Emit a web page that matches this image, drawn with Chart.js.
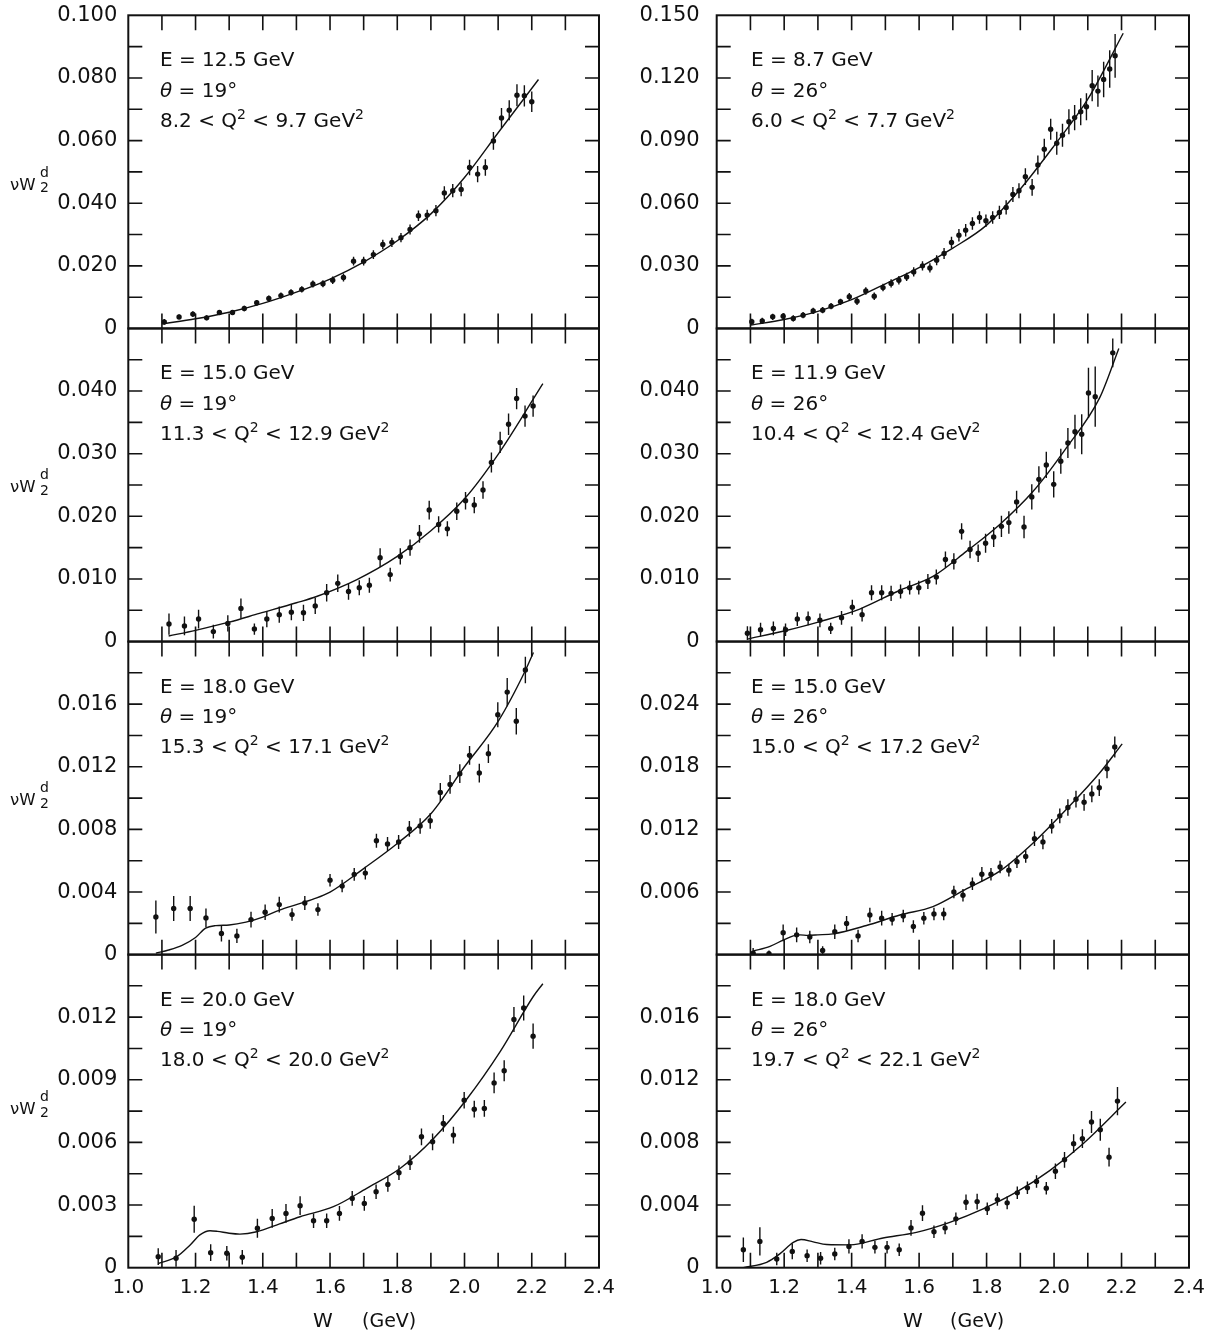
<!DOCTYPE html>
<html><head><meta charset="utf-8">
<script src="https://cdn.jsdelivr.net/npm/chart.js@4.4.1/dist/chart.umd.min.js"></script>
<style>
html,body{margin:0;padding:0;background:#fff;}
#wrap{position:relative;width:1210px;height:1334px;overflow:hidden;background:#fff;}
canvas{position:absolute;}
.t{position:absolute;line-height:0;white-space:nowrap;font-family:"DejaVu Sans",sans-serif;color:#111;}
.sup{position:relative;font-size:14px;top:-8px;}
</style></head><body><div id="wrap"></div>
<script>
// ---------------- DATA ----------------
// x tick values (W in GeV)
const X_TICK_VALUES = [1.1,1.2,1.3,1.4,1.5,1.6,1.7,1.8,1.9,2.0,2.1,2.2,2.3];

// Panel annotations: order L1..L4 (theta=19), R1..R4 (theta=26)
const PANEL_E = ['12.5','15.0','18.0','20.0','8.7','11.9','15.0','18.0'];
const PANEL_THETA = ['19','19','19','19','26','26','26','26'];
const PANEL_Q2_LOW = ['8.2','11.3','15.3','18.0','6.0','10.4','15.0','19.7'];
const PANEL_Q2_HIGH = ['9.7','12.9','17.1','20.0','7.7','12.4','17.2','22.1'];
const Y_MAX = [0.100,0.050,0.020,0.015,0.150,0.050,0.030,0.020];
const Y_MAJOR = [0.020,0.010,0.004,0.003,0.030,0.010,0.006,0.004];
const Y_MINOR = [0.010,0.005,0.002,0.0015,0.015,0.005,0.003,0.002];
const HIDE_ZERO = [false,false,false,false,false,false,true,false];

// L1: E=12.5 GeV, theta=19
const L1_W = [1.107,1.151,1.192,1.233,1.271,1.31,1.345,1.382,1.418,1.454,1.484,1.516,1.549,1.579,1.608,1.64,1.67,1.70,1.729,1.757,1.784,1.811,1.838,1.863,1.889,1.915,1.94,1.965,1.99,2.015,2.039,2.062,2.086,2.11,2.133,2.156,2.178,2.2];
const L1_Y = [0.0021,0.0037,0.0046,0.0034,0.0051,0.0051,0.0064,0.0082,0.0096,0.0105,0.0115,0.0125,0.0142,0.0143,0.0154,0.0163,0.0215,0.0215,0.0236,0.0268,0.0275,0.029,0.0316,0.036,0.0362,0.0376,0.0433,0.044,0.0444,0.0514,0.0493,0.0514,0.0599,0.0672,0.0697,0.0745,0.0743,0.0724];
const L1_ERR = [0.0009,0.0008,0.0009,0.0008,0.0008,0.0008,0.0009,0.0009,0.0009,0.001,0.001,0.001,0.0011,0.0011,0.0012,0.0013,0.0014,0.0014,0.0014,0.0015,0.0015,0.0015,0.0016,0.0017,0.0017,0.0018,0.0021,0.0021,0.0022,0.0025,0.0026,0.0026,0.0028,0.0032,0.0032,0.0035,0.0034,0.0033];
const L1_FIT_W = [1.1,1.2,1.3,1.4,1.5,1.6,1.7,1.8,1.9,2.0,2.1,2.22];
const L1_FIT_Y = [0.0015,0.0031,0.0052,0.0080,0.0116,0.0158,0.0212,0.0280,0.0366,0.0482,0.0625,0.0795];

// L2: E=15.0 GeV, theta=19
const L2_W = [1.121,1.167,1.209,1.253,1.296,1.335,1.375,1.412,1.449,1.485,1.521,1.556,1.59,1.623,1.655,1.687,1.717,1.749,1.779,1.809,1.838,1.866,1.895,1.923,1.949,1.977,2.003,2.029,2.055,2.08,2.106,2.131,2.155,2.18,2.204];
const L2_Y = [0.0028,0.0025,0.0036,0.0016,0.0029,0.0053,0.0020,0.0036,0.0043,0.0047,0.0046,0.0057,0.0078,0.0093,0.0080,0.0086,0.0090,0.0134,0.0107,0.0136,0.0150,0.0172,0.0210,0.0187,0.0180,0.0208,0.0225,0.0218,0.0242,0.0286,0.0318,0.0347,0.0388,0.0360,0.0376];
const L2_ERR = [0.0017,0.0015,0.0015,0.0011,0.0013,0.0016,0.0009,0.0013,0.0013,0.0013,0.0013,0.0013,0.0014,0.0014,0.0013,0.0012,0.0012,0.0015,0.0011,0.0013,0.0013,0.0014,0.0015,0.0013,0.0012,0.0014,0.0014,0.0013,0.0014,0.0016,0.0017,0.0017,0.0017,0.0017,0.0017];
const L2_FIT_W = [1.12,1.2,1.3,1.39,1.5,1.56,1.68,1.8,1.9,2.0,2.1,2.233];
const L2_FIT_Y = [0.0009,0.0018,0.0031,0.0045,0.0062,0.0072,0.0099,0.0136,0.0177,0.0228,0.0299,0.0412];

// L3: E=18.0 GeV, theta=19
const L3_W = [1.082,1.135,1.184,1.231,1.277,1.323,1.365,1.407,1.449,1.487,1.525,1.564,1.6,1.636,1.672,1.705,1.738,1.771,1.804,1.836,1.868,1.898,1.928,1.957,1.986,2.015,2.044,2.071,2.099,2.127,2.154,2.181];
const L3_Y = [0.00241,0.00295,0.00295,0.00235,0.00135,0.0012,0.00224,0.00271,0.0032,0.00256,0.0033,0.00288,0.00476,0.00438,0.00513,0.00521,0.00728,0.00707,0.0072,0.00803,0.00822,0.00855,0.01036,0.01087,0.01156,0.01273,0.0116,0.01284,0.01532,0.01677,0.01491,0.01818];
const L3_ERR = [0.00105,0.0008,0.0008,0.0006,0.0005,0.00045,0.0005,0.0005,0.0005,0.0004,0.00045,0.0004,0.0004,0.0004,0.0004,0.0004,0.00045,0.00045,0.00045,0.0005,0.0005,0.0005,0.0006,0.0006,0.0006,0.0006,0.0006,0.0006,0.0008,0.0009,0.00085,0.00085];
const L3_FIT_W = [1.082,1.12,1.16,1.2,1.23,1.26,1.3,1.35,1.4,1.45,1.5,1.55,1.6,1.7,1.8,1.9,2.0,2.1,2.18,2.205];
const L3_FIT_Y = [0.0001,0.0003,0.0006,0.0011,0.0017,0.00186,0.0019,0.00208,0.0024,0.00285,0.0032,0.00355,0.0040,0.0055,0.0071,0.0090,0.0120,0.0149,0.0181,0.0193];

// L4: E=20.0 GeV, theta=19
const L4_W = [1.089,1.142,1.196,1.245,1.293,1.339,1.384,1.428,1.469,1.511,1.551,1.59,1.628,1.666,1.702,1.737,1.772,1.805,1.838,1.872,1.905,1.937,1.967,1.999,2.029,2.059,2.088,2.118,2.147,2.176,2.204];
const L4_Y = [0.00053,0.00045,0.00232,0.00072,0.00069,0.0005,0.00189,0.00236,0.0026,0.00297,0.00225,0.00225,0.0026,0.00332,0.00308,0.00364,0.00399,0.00455,0.00503,0.00627,0.00603,0.00691,0.00635,0.00802,0.00759,0.00763,0.00885,0.00943,0.01189,0.01244,0.01109];
const L4_ERR = [0.0004,0.0004,0.00065,0.0004,0.00035,0.00035,0.00045,0.00045,0.00045,0.00045,0.00035,0.00035,0.00035,0.00035,0.00035,0.00035,0.00035,0.00035,0.00035,0.0004,0.0004,0.0004,0.0004,0.0004,0.0004,0.0004,0.0005,0.0005,0.0006,0.0006,0.0006];
const L4_FIT_W = [1.089,1.144,1.184,1.213,1.243,1.265,1.3,1.332,1.382,1.45,1.511,1.61,1.709,1.809,1.908,2.007,2.106,2.205,2.233];
const L4_FIT_Y = [0.0002,0.00053,0.00109,0.00157,0.00177,0.00174,0.00165,0.00161,0.00172,0.0021,0.00244,0.00292,0.0038,0.00476,0.00619,0.00808,0.01035,0.0130,0.0136];

// R1: E=8.7 GeV, theta=26
const R1_W = [1.104,1.135,1.166,1.197,1.227,1.256,1.286,1.314,1.339,1.367,1.393,1.416,1.442,1.467,1.493,1.517,1.54,1.563,1.584,1.61,1.632,1.652,1.674,1.696,1.718,1.738,1.758,1.779,1.798,1.818,1.838,1.858,1.878,1.896,1.915,1.935,1.952,1.971,1.99,2.008,2.025,2.044,2.061,2.079,2.096,2.113,2.13,2.147,2.165,2.181];
const R1_Y = [0.0032,0.0036,0.0056,0.0059,0.0048,0.0064,0.0084,0.0088,0.0107,0.0128,0.0152,0.0131,0.018,0.0155,0.0196,0.0216,0.0231,0.0247,0.0271,0.030,0.029,0.0327,0.0359,0.0412,0.0447,0.0471,0.0503,0.0532,0.0516,0.0532,0.0556,0.058,0.0642,0.066,0.0727,0.0676,0.0783,0.0859,0.0954,0.0887,0.0926,0.099,0.101,0.1038,0.1062,0.1163,0.1137,0.1193,0.1243,0.1306];
const R1_ERR = [0.0015,0.0015,0.0015,0.0015,0.0015,0.0015,0.0015,0.0015,0.0015,0.0015,0.0018,0.0018,0.0018,0.0018,0.0018,0.002,0.002,0.002,0.0022,0.0022,0.0022,0.0024,0.0026,0.0028,0.003,0.003,0.003,0.003,0.003,0.003,0.0032,0.0034,0.0036,0.0036,0.004,0.004,0.0045,0.005,0.005,0.0055,0.0055,0.006,0.006,0.0065,0.0065,0.0075,0.0075,0.0085,0.009,0.0105];
const R1_FIT_W = [1.1,1.2,1.3,1.4,1.5,1.6,1.7,1.8,1.9,2.0,2.1,2.205];
const R1_FIT_Y = [0.0016,0.0043,0.0082,0.0138,0.0214,0.0292,0.0385,0.0495,0.0668,0.0875,0.1098,0.1414];

// R2: E=11.9 GeV, theta=26
const R2_W = [1.091,1.13,1.168,1.204,1.239,1.271,1.306,1.338,1.37,1.402,1.431,1.459,1.489,1.517,1.545,1.572,1.599,1.626,1.651,1.678,1.703,1.726,1.751,1.775,1.797,1.821,1.844,1.866,1.889,1.911,1.934,1.955,1.977,1.999,2.02,2.041,2.062,2.082,2.102,2.122,2.174];
const R2_Y = [0.00134,0.0019,0.0021,0.0019,0.0036,0.0037,0.0034,0.0021,0.0038,0.0055,0.0043,0.0078,0.0078,0.0077,0.008,0.0086,0.0086,0.0096,0.0103,0.0131,0.0128,0.0176,0.0147,0.0141,0.0157,0.0167,0.0184,0.019,0.0223,0.0183,0.0231,0.0259,0.0282,0.0251,0.0288,0.0317,0.0335,0.0331,0.0397,0.0391,0.0461];
const R2_ERR = [0.0011,0.0011,0.0011,0.001,0.0011,0.0011,0.0011,0.0009,0.0011,0.0012,0.0011,0.0012,0.0012,0.0012,0.0011,0.0011,0.0011,0.0012,0.0012,0.0013,0.0013,0.0013,0.0014,0.0014,0.0015,0.0016,0.0017,0.0018,0.0018,0.0018,0.002,0.0021,0.0021,0.0021,0.002,0.0024,0.0027,0.0032,0.004,0.0048,0.0023];
const R2_FIT_W = [1.091,1.2,1.306,1.424,1.543,1.641,1.74,1.839,1.938,2.036,2.135,2.192];
const R2_FIT_Y = [0.0004,0.0017,0.0032,0.0052,0.0082,0.0104,0.0144,0.0187,0.024,0.0309,0.0389,0.0468];

// R3: E=15.0 GeV, theta=26
const R3_W = [1.108,1.155,1.197,1.237,1.276,1.314,1.35,1.385,1.419,1.454,1.489,1.52,1.553,1.583,1.614,1.644,1.673,1.703,1.73,1.758,1.786,1.813,1.84,1.866,1.89,1.916,1.942,1.967,1.993,2.017,2.041,2.065,2.089,2.112,2.134,2.157,2.18];
const R3_Y = [0.00015,0.0001,0.0021,0.0019,0.0017,0.0004,0.0022,0.003,0.0018,0.0038,0.0035,0.0034,0.0037,0.0027,0.0035,0.0039,0.0039,0.006,0.0057,0.0068,0.0077,0.0077,0.0084,0.0081,0.0089,0.0094,0.0111,0.0108,0.0123,0.0133,0.0141,0.0149,0.0146,0.0154,0.016,0.0178,0.0199];
const R3_ERR = [0.0005,0.0003,0.0008,0.0007,0.0006,0.0004,0.0007,0.0007,0.0006,0.0007,0.0007,0.0006,0.0006,0.0006,0.0006,0.0006,0.0006,0.0006,0.0006,0.0006,0.0007,0.0006,0.0006,0.0006,0.0006,0.0006,0.0007,0.0007,0.0007,0.0007,0.0008,0.0008,0.0008,0.0008,0.0008,0.0009,0.001];
const R3_FIT_W = [1.108,1.158,1.197,1.227,1.247,1.27,1.3,1.345,1.444,1.543,1.641,1.74,1.839,1.938,2.036,2.135,2.202];
const R3_FIT_Y = [0.00035,0.0008,0.0014,0.0018,0.0019,0.00185,0.0019,0.0020,0.0028,0.0038,0.0046,0.0063,0.0080,0.0107,0.0139,0.0174,0.0202];

// R4: E=18.0 GeV, theta=26
const R4_W = [1.079,1.128,1.178,1.224,1.268,1.308,1.35,1.392,1.431,1.469,1.505,1.541,1.576,1.61,1.644,1.677,1.709,1.739,1.772,1.802,1.832,1.861,1.891,1.921,1.948,1.977,2.004,2.031,2.058,2.084,2.111,2.137,2.163,2.188];
const R4_Y = [0.00115,0.00168,0.00056,0.00104,0.00077,0.0006,0.00088,0.00136,0.00168,0.0013,0.0013,0.00115,0.00254,0.00348,0.0023,0.00254,0.00312,0.00418,0.00422,0.00376,0.00435,0.00414,0.00478,0.0051,0.0055,0.00507,0.00616,0.00689,0.00792,0.00824,0.0093,0.00881,0.00706,0.01064];
const R4_ERR = [0.00078,0.0009,0.0004,0.0005,0.0004,0.0004,0.0004,0.00045,0.00045,0.0004,0.0004,0.0004,0.0005,0.0005,0.0004,0.0004,0.0004,0.0005,0.0005,0.0004,0.0004,0.0004,0.0004,0.0004,0.0004,0.0004,0.0005,0.0005,0.0006,0.0006,0.0007,0.0007,0.0006,0.0009];
const R4_FIT_W = [1.079,1.148,1.187,1.227,1.25,1.286,1.326,1.395,1.493,1.592,1.691,1.79,1.888,1.987,2.086,2.213];
const R4_FIT_Y = [0.0,0.00034,0.00088,0.00162,0.0018,0.00165,0.00148,0.00146,0.0019,0.00226,0.0029,0.00376,0.00482,0.0062,0.00792,0.01058];

// ---------------- LAYOUT ----------------
const SERIES = [
  [L1_W,L1_Y,L1_ERR,L1_FIT_W,L1_FIT_Y],
  [L2_W,L2_Y,L2_ERR,L2_FIT_W,L2_FIT_Y],
  [L3_W,L3_Y,L3_ERR,L3_FIT_W,L3_FIT_Y],
  [L4_W,L4_Y,L4_ERR,L4_FIT_W,L4_FIT_Y],
  [R1_W,R1_Y,R1_ERR,R1_FIT_W,R1_FIT_Y],
  [R2_W,R2_Y,R2_ERR,R2_FIT_W,R2_FIT_Y],
  [R3_W,R3_Y,R3_ERR,R3_FIT_W,R3_FIT_Y],
  [R4_W,R4_Y,R4_ERR,R4_FIT_W,R4_FIT_Y]
];
const CANVAS_LEFT = [0, 610];
const CANVAS_W = [640, 640];
const AXIS_W = [128.3, 106.7];
const PAD_RIGHT = [41, 61];
const LABEL_PAD = [11, 17];
const TEXT_X = [160, 751];
const ROW_TOP = [15.3, 328.4, 641.5, 954.5];
const PLOT_H = 313.2;
const XAXIS_H = 40;
const MARGIN = 45;
const FONT = '"DejaVu Sans", sans-serif';
const INK = '#111';

const wrap = document.getElementById('wrap');

function txt(x, baseline, html, size) {
  const d = document.createElement('div');
  d.className = 't';
  d.style.left = x + 'px';
  d.style.top = (baseline - 0.346 * size) + 'px';
  d.style.fontSize = size + 'px';
  d.innerHTML = html;
  wrap.appendChild(d);
}

const frameTicks = {
  id: 'frameTicks',
  afterDatasetsDraw(chart, args, opts) {
    const {ctx, chartArea: a} = chart;
    const xs = chart.scales.x, ys = chart.scales.y;
    ctx.save();
    ctx.strokeStyle = INK;
    ctx.lineWidth = 1.6;
    ctx.beginPath();
    for (const v of X_TICK_VALUES) {
      const px = xs.getPixelForValue(v);
      ctx.moveTo(px, a.bottom); ctx.lineTo(px, a.bottom - 15);
      ctx.moveTo(px, a.top); ctx.lineTo(px, a.top + 15);
    }
    const n = Math.round(opts.max / opts.minor);
    for (let k = 1; k < n; k++) {
      const py = ys.getPixelForValue(k * opts.minor);
      ctx.moveTo(a.left, py); ctx.lineTo(a.left + 14, py);
      ctx.moveTo(a.right, py); ctx.lineTo(a.right - 14, py);
    }
    ctx.stroke();
    ctx.lineWidth = 2;
    ctx.strokeRect(a.left, a.top, a.right - a.left, a.bottom - a.top);
    ctx.restore();
  }
};

function makePanel(i) {
  const col = i < 4 ? 0 : 1;
  const row = i % 4;
  const [W, Y, E, FW, FY] = SERIES[i];
  const isBottom = row === 3;
  const canvasTop = Math.floor(ROW_TOP[row]) - MARGIN;
  const padT = ROW_TOP[row] - canvasTop;
  const extra = isBottom ? XAXIS_H + 12 : MARGIN;
  const canvasH = Math.ceil(padT + PLOT_H + extra);
  const padB = canvasH - padT - PLOT_H - (isBottom ? XAXIS_H : 0);

  const cv = document.createElement('canvas');
  cv.width = CANVAS_W[col];
  cv.height = canvasH;
  cv.style.left = CANVAS_LEFT[col] + 'px';
  cv.style.top = canvasTop + 'px';
  cv.style.width = CANVAS_W[col] + 'px';
  cv.style.height = canvasH + 'px';
  wrap.appendChild(cv);

  const pts = W.map((w, k) => ({x: w, y: Y[k]}));
  const fit = FW.map((w, k) => ({x: w, y: FY[k]}));
  const bars = [];
  W.forEach((w, k) => {
    bars.push({x: w, y: Y[k] - E[k]});
    bars.push({x: w, y: Y[k] + E[k]});
    bars.push({x: w, y: null});
  });

  const max = Y_MAX[i];
  const xScale = {
    type: 'linear', min: 1.0, max: 2.4, display: isBottom,
    grid: {display: false, drawTicks: false},
    border: {display: false},
    ticks: {stepSize: 0.2, padding: 8, color: INK, autoSkip: false, maxRotation: 0,
            font: {family: FONT, size: 20},
            callback: v => Number(v).toFixed(1)}
  };
  if (isBottom) xScale.afterFit = s => { s.height = XAXIS_H; };

  new Chart(cv, {
    type: 'scatter',
    data: {datasets: [
      {type: 'scatter', label: 'data', data: pts, pointRadius: 2.7, pointBackgroundColor: INK, pointBorderWidth: 0, pointBorderColor: INK},
      {type: 'line', label: 'errors', data: bars, borderColor: INK, borderWidth: 1.4, pointRadius: 0, spanGaps: false, fill: false, tension: 0},
      {type: 'line', label: 'fit', data: fit, borderColor: INK, borderWidth: 1.4, pointRadius: 0, fill: false, cubicInterpolationMode: 'monotone'}
    ]},
    options: {
      responsive: false, animation: false, events: [], devicePixelRatio: 1,
      layout: {padding: {left: 0, right: PAD_RIGHT[col], top: padT, bottom: padB}},
      plugins: {legend: {display: false}, tooltip: {enabled: false},
                frameTicks: {max: max, minor: Y_MINOR[i]}},
      scales: {
        x: xScale,
        y: {
          type: 'linear', min: 0, max: max,
          afterFit: s => { s.width = AXIS_W[col]; },
          grid: {display: false, drawTicks: false},
          border: {display: false},
          ticks: {stepSize: Y_MAJOR[i], padding: LABEL_PAD[col], color: INK, autoSkip: false,
                  font: {family: FONT, size: 21},
                  callback: v => {
                    if (row > 0 && Math.abs(v - max) < 1e-9) return '';
                    if (Math.abs(v) < 1e-12) return HIDE_ZERO[i] ? '' : '0';
                    return Number(v).toFixed(3);
                  }}
        }
      }
    },
    plugins: [frameTicks]
  });

  // annotation text
  const top = ROW_TOP[row];
  const tx = TEXT_X[col];
  txt(tx, top + 51, 'E = ' + PANEL_E[i] + ' GeV', 20);
  txt(tx, top + 81.5, '<i>θ</i> = ' + PANEL_THETA[i] + '°', 20);
  txt(tx, top + 111.5, PANEL_Q2_LOW[i] + ' &lt; Q<span class="sup">2</span> &lt; ' + PANEL_Q2_HIGH[i] + ' GeV<span class="sup">2</span>', 20);
}

for (let i = 0; i < 8; i++) makePanel(i);

// y-axis titles (left column only)
const YLAB_BASE = [190.7, 493, 806, 1115];
YLAB_BASE.forEach(b => {
  txt(10, b, 'νW', 16.5);
  txt(40, b - 14, 'd', 14);
  txt(40, b + 1.5, '2', 14);
});
// x-axis titles
txt(313, 1327, 'W', 20); txt(362, 1327, '(GeV)', 19);
txt(903, 1327, 'W', 20); txt(950, 1327, '(GeV)', 19);
</script></body></html>
